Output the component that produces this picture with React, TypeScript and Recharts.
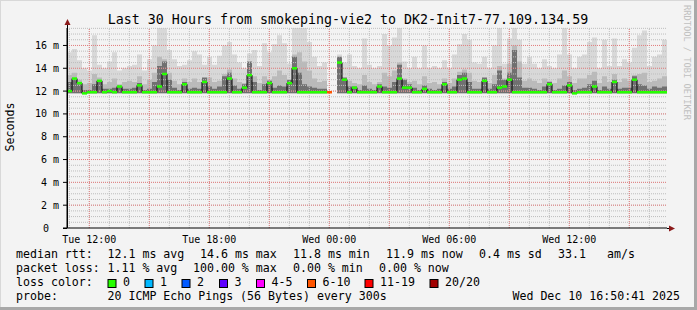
import React from "react";
import { ComposedChart, Area, Line, XAxis, YAxis, ReferenceLine } from "recharts";

// 30 hour window, one column per 15 minutes (hours since Tue 00:00)
const startHour = 10.885;
const stepHours = 0.25;
const endHour = startHour + 30;

// smoke: outer (max), middle and core band tops, in ms
const smokeMax = [
  15.4, 15.7, 14.7, 14.0, 13.8, 16.9, 14.3, 14.0, 14.6, 15.4,
  13.8, 14.0, 14.2, 14.3, 15.2, 13.8, 14.8, 16.0, 17.6, 17.5,
  15.6, 14.8, 14.2, 14.3, 14.7, 15.5, 15.2, 14.3, 15.0, 14.3,
  15.1, 16.0, 16.3, 15.2, 14.5, 14.0, 15.3, 15.6, 14.2, 16.2,
  15.4, 16.1, 16.9, 16.2, 14.4, 17.6, 17.6, 17.6, 16.3, 15.0,
  14.2, 14.5, 14.0, null, 15.2, 14.5, 15.2, 14.2, 14.0, 16.6,
  14.3, 14.0, 14.2, 17.0, 16.0, 16.7, 17.6, 14.6, 14.0, 15.0,
  14.0, 16.0, 14.0, 14.2, 14.0, 14.7, 14.0, 15.2, 16.1, 17.0,
  16.5, 14.5, 14.4, 15.0, 14.0, 16.0, 17.6, 14.4, 16.6, 17.6,
  16.5, 14.4, 15.0, 14.4, 14.0, 14.8, 14.2, 14.0, 15.2, 17.6,
  15.2, 14.0, 15.0, 15.2, 16.3, 16.7, 14.0, 16.5, 14.2, 16.6,
  14.2, 14.8, 14.5, 15.8, 16.9, 17.3, 14.2, 15.0, 15.2, 16.5,
];
const smokeMid = [
  13.4, 13.6, 13.0, 12.6, 12.7, 13.5, 13.2, 12.6, 12.8, 13.1,
  12.6, 12.8, 12.9, 12.8, 13.3, 12.6, 13.0, 13.6, 15.0, 14.8,
  13.6, 12.9, 12.6, 13.1, 12.8, 13.1, 12.8, 13.0, 13.2, 12.8,
  12.9, 13.5, 13.9, 13.1, 12.8, 12.7, 13.8, 13.3, 12.7, 13.3,
  13.0, 13.3, 13.8, 13.4, 12.8, 15.2, 15.4, 14.6, 13.8, 13.1,
  12.8, 12.9, 12.7, null, 13.8, 13.1, 12.9, 12.7, 12.6, 13.4,
  12.8, 12.6, 12.8, 13.6, 13.3, 13.8, 14.5, 13.1, 12.8, 12.9,
  12.6, 13.3, 12.7, 12.8, 12.6, 13.1, 12.7, 13.1, 13.7, 13.9,
  13.6, 12.9, 12.8, 13.1, 12.7, 13.4, 14.2, 13.1, 14.4, 16.0,
  14.6, 12.9, 13.1, 12.9, 12.7, 13.1, 12.9, 12.7, 13.1, 13.8,
  13.3, 12.7, 13.1, 13.1, 13.4, 13.7, 12.7, 13.3, 12.8, 13.5,
  12.8, 13.1, 12.9, 13.4, 13.5, 13.6, 12.8, 12.9, 13.1, 13.3,
];
const smokeDark = [
  12.8, 13.0, 12.6, 12.1, 12.1, 12.6, 12.9, 12.2, 12.2, 12.3,
  12.5, 12.2, 12.2, 12.3, 12.7, 12.1, 12.2, 12.8, 14.2, 14.6,
  13.0, 12.3, 12.1, 12.8, 12.2, 12.3, 12.2, 13.2, 12.4, 12.2,
  12.4, 13.3, 13.6, 12.5, 12.2, 12.6, 14.6, 12.8, 12.1, 12.6,
  12.9, 12.3, 12.5, 12.4, 13.0, 15.0, 13.6, 12.6, 12.4, 12.3,
  12.2, 12.2, 12.2, null, 15.0, 13.2, 12.4, 12.4, 12.1, 12.5,
  12.2, 12.1, 12.6, 12.4, 12.3, 12.8, 14.3, 13.0, 12.6, 12.3,
  12.1, 12.5, 12.2, 12.1, 12.2, 12.8, 12.2, 12.4, 13.4, 13.6,
  12.8, 12.2, 12.2, 13.2, 12.2, 12.6, 13.8, 13.0, 13.6, 15.6,
  13.2, 12.3, 12.3, 12.2, 12.1, 12.4, 12.8, 12.1, 12.2, 12.5,
  12.8, 12.1, 12.2, 12.3, 12.6, 12.9, 12.1, 12.4, 12.2, 13.0,
  12.2, 12.3, 12.3, 13.3, 12.6, 12.5, 12.2, 12.4, 12.3, 12.4,
];
const medianRtt = [
  12.0, 13.1, 12.7, 11.8, 11.9, 11.9, 12.9, 11.9, 12.0, 11.9,
  12.4, 11.9, 11.9, 11.9, 12.5, 11.9, 11.9, 11.9, 12.4, 13.5,
  11.9, 11.9, 11.9, 12.6, 11.9, 11.9, 11.9, 12.8, 11.9, 11.9,
  11.9, 11.9, 13.1, 11.9, 11.9, 12.3, 13.4, 11.9, 11.9, 11.9,
  12.7, 11.9, 11.9, 11.9, 12.7, 14.0, 11.9, 11.9, 11.9, 11.9,
  11.9, 11.9, 11.9, null, 14.5, 13.0, 11.9, 12.3, 11.9, 11.9,
  11.9, 11.9, 12.4, 11.9, 11.9, 11.9, 13.1, 12.3, 12.3, 11.9,
  11.9, 12.2, 11.9, 11.9, 11.9, 12.6, 11.9, 11.9, 13.0, 13.1,
  11.9, 11.9, 11.9, 12.9, 11.9, 11.9, 12.3, 12.4, 13.0, 11.9,
  11.9, 11.9, 11.9, 11.9, 11.9, 11.9, 12.6, 11.9, 11.9, 11.9,
  12.5, 11.8, 11.9, 11.9, 11.9, 12.4, 11.9, 11.9, 11.9, 12.8,
  11.9, 11.9, 11.9, 13.0, 11.9, 11.9, 11.9, 11.9, 11.9, 11.9,
];
const smokeFloor = 11.8;
// columns with packet loss and the loss colour they got
const lossSteps = [52];
const lossStepColors = ["#ff5500"];

const yTicks = [0, 2, 4, 6, 8, 10, 12, 14, 16];
const xTicks = [12, 18, 24, 30, 36];
const xTickLabels = ["Tue 12:00", "Tue 18:00", "Wed 00:00", "Wed 06:00", "Wed 12:00"];

const lossLabels = ["0", "1", "2", "3", "4-5", "6-10", "11-19", "20/20"];
const lossColors = ["#26ff00", "#00b8ff", "#0059ff", "#5e00ff", "#ff00ff", "#ff5500", "#ff0000", "#a10000"];
const lossBoxX = [108, 145, 182, 219.5, 256.5, 307.5, 365, 430];

const rttLegend: [number, string][] = [
  [16, "median rtt:"], [107.5, "12.1 ms avg"], [200, "14.6 ms max"], [293, "11.8 ms min"],
  [386, "11.9 ms now"], [479, "0.4 ms sd"], [558, "33.1"], [607, "am/s"],
];
const lossLegend: [number, string][] = [
  [16, "packet loss:"], [107.5, "1.11 % avg"], [193, "100.00 % max"], [293, "0.00 % min"], [379, "0.00 % now"],
];

const data: any[] = medianRtt.map((med, i) => {
  const li = lossSteps.indexOf(i);
  return {
    t: startHour + i * stepHours,
    med,
    max: smokeMax[i],
    mid: smokeMid[i],
    dark: smokeDark[i],
    loss: li >= 0 ? lossStepColors[li] : null,
  };
});
data.push({ ...data[data.length - 1], t: endHour, last: true });

const minorX: number[] = [];
for (let h = 11; h <= 40; h++) minorX.push(h);
const majorX: number[] = [];
for (let h = 12; h <= 40; h += 3) majorX.push(h);
const minorY: number[] = [];
for (let v = 0.5; v <= 17.5; v += 0.5) minorY.push(v);

const FONT = "'DejaVu Sans Mono', monospace";

const range = (key: string) => (d: any) => (d[key] == null ? null : [smokeFloor, d[key]]);

const MedianDot = (props: any) => {
  const { cx, cy, payload, index } = props;
  if (cx == null || cy == null || payload.med == null || payload.last) return <g key={`m${index}`} />;
  return <rect key={`m${index}`} x={cx} y={cy - 1.25} width={5} height={2.5} fill={payload.loss ?? "#26ff00"} />;
};

const YTick = (props: any) => {
  const { x, y, payload } = props;
  const v = payload.value;
  return (
    <text x={v === 0 ? x - 10 : x} y={y} dy={3.5} textAnchor="end" fontFamily={FONT} fontSize={10} fill="#000">
      {v === 0 ? "0" : `${v} m`}
    </text>
  );
};

const XTick = (props: any) => {
  const { x, y, payload } = props;
  const i = xTicks.indexOf(payload.value);
  return (
    <text x={x} y={y + 13} textAnchor="middle" fontFamily={FONT} fontSize={10} fill="#000">
      {xTickLabels[i]}
    </text>
  );
};

export default function App() {
  return (
    <div style={{ position: "absolute", left: 0, top: 0, width: 697, height: 310, background: "#f3f3f3" }}>
      <div style={{ position: "absolute", left: 0, top: 0 }}>
        <ComposedChart width={697} height={310} data={data} margin={{ top: 28, right: 30, bottom: 62, left: 17 }}>
          <XAxis
            dataKey="t"
            type="number"
            domain={[startHour, endHour]}
            ticks={xTicks}
            interval={0}
            tick={<XTick />}
            tickLine={false}
            tickSize={0}
            height={20}
            axisLine={{ stroke: "#000" }}
            allowDataOverflow
          />
          <YAxis
            type="number"
            domain={[0, 17.53]}
            ticks={yTicks}
            interval={0}
            tick={<YTick />}
            tickSize={4}
            tickMargin={4}
            tickLine={{ stroke: "#000" }}
            width={50}
            axisLine={{ stroke: "#000" }}
            allowDataOverflow
          />
          <Area dataKey={range("max")} type="stepAfter" stroke="none" fill="#d8d8d8" fillOpacity={1} isAnimationActive={false} />
          <Area dataKey={range("mid")} type="stepAfter" stroke="none" fill="#bababa" fillOpacity={1} isAnimationActive={false} />
          <Area dataKey={range("dark")} type="stepAfter" stroke="none" fill="#707070" fillOpacity={1} isAnimationActive={false} />
          {minorX.map((h) => (
            <ReferenceLine key={`vx${h}`} x={h} stroke="#bdbdbd" strokeDasharray="1 1" zIndex={150} />
          ))}
          {minorY.map((v) => (
            <ReferenceLine key={`hy${v}`} y={v} stroke="#bdbdbd" strokeDasharray="1 1" zIndex={150} />
          ))}
          {majorX.map((h) => (
            <ReferenceLine key={`mx${h}`} x={h} stroke="#e58080" strokeDasharray="1 1" zIndex={150} />
          ))}
          {yTicks.filter((v) => v > 0).map((v) => (
            <ReferenceLine key={`my${v}`} y={v} stroke="#e58080" strokeDasharray="1 1" zIndex={150} />
          ))}
          <Line
            dataKey="med"
            type="stepAfter"
            stroke="#000"
            strokeWidth={1}
            dot={MedianDot}
            activeDot={false}
            isAnimationActive={false}
          />
        </ComposedChart>
      </div>
      <svg width={697} height={310} style={{ position: "absolute", left: 0, top: 0, pointerEvents: "none" }} fontFamily={FONT}>
        <line x1={0.5} y1={0} x2={0.5} y2={310} stroke="#d8d8d8" />
        <line x1={0} y1={0.5} x2={697} y2={0.5} stroke="#d8d8d8" />
        <rect x={694} y={0} width={3} height={310} fill="#a8a8a8" />
        <rect x={0} y={307} width={697} height={3} fill="#a8a8a8" />
        <text x={348} y={23.5} textAnchor="middle" fontSize={13.3} fill="#000">
          Last 30 Hours from smokeping-vie2 to DK2-Init7-77.109.134.59
        </text>
        <text transform="translate(14,127) rotate(-90)" textAnchor="middle" fontSize={11.6} fill="#000">
          Seconds
        </text>
        <text transform="translate(684,5) rotate(90)" fontSize={8.7} fill="#c0c0c0">
          RRDTOOL / TOBI OETIKER
        </text>
        <line x1={667} y1={228.5} x2={671} y2={228.5} stroke="#000" />
        <polygon points="669,225.5 675,228.5 669,231.5" fill="#8b1a1a" />
        <line x1={67.5} y1={228} x2={67.5} y2={25} stroke="#000" />
        <line x1={63} y1={228.5} x2={67} y2={228.5} stroke="#000" />
        <polygon points="64.5,25 67.5,19 70.5,25" fill="#8b1a1a" />
        {rttLegend.map(([x, s]) => (
          <text key={`r${x}`} x={x} y={258.3} fontSize={11.6} fill="#000" style={{ whiteSpace: "pre" }}>{s}</text>
        ))}
        {lossLegend.map(([x, s]) => (
          <text key={`l${x}`} x={x} y={272.3} fontSize={11.6} fill="#000" style={{ whiteSpace: "pre" }}>{s}</text>
        ))}
        <text x={16} y={286} fontSize={11.6} fill="#000">loss color:</text>
        {lossLabels.map((s, i) => (
          <g key={`c${s}`}>
            <rect x={lossBoxX[i]} y={279.5} width={8} height={8} fill={lossColors[i]} stroke="#000" strokeWidth={1} />
            <text x={lossBoxX[i] + 15} y={286} fontSize={11.6} fill="#000">{s}</text>
          </g>
        ))}
        <text x={16} y={299.7} fontSize={11.6} fill="#000">probe:</text>
        <text x={107.5} y={299.7} fontSize={11.6} fill="#000">20 ICMP Echo Pings (56 Bytes) every 300s</text>
        <text x={680} y={299.7} textAnchor="end" fontSize={11.6} fill="#000">Wed Dec 10 16:50:41 2025</text>
      </svg>
    </div>
  );
}
